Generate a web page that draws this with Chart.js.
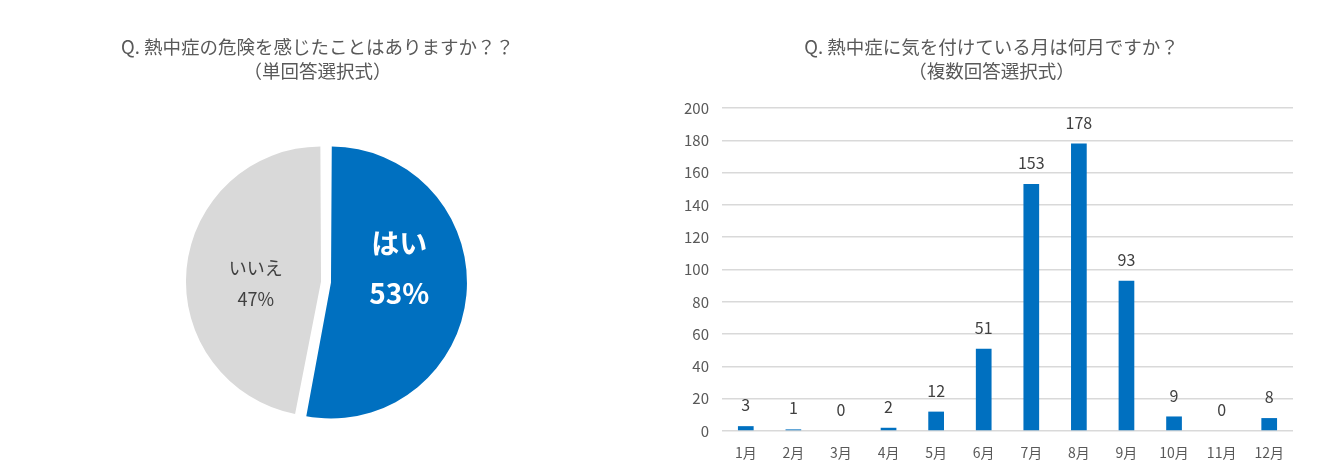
<!DOCTYPE html>
<html lang="ja">
<head>
<meta charset="utf-8">
<script src="https://cdn.jsdelivr.net/npm/chart.js@4.4.1/dist/chart.umd.min.js"></script>
<style>
  html, body { margin: 0; padding: 0; background: #ffffff; }
  #wrap { position: relative; width: 1330px; height: 476px; overflow: hidden; }
  #pie-chart { position: absolute; left: 0; top: 0; }
  #month-chart { position: absolute; left: 600px; top: 0; }
</style>
</head>
<body>
<div id="wrap">
  <canvas id="pie-chart" width="650" height="476"></canvas>
  <canvas id="month-chart" width="730" height="476"></canvas>
</div>
<script>
// Left: 熱中症の危険を感じたか
const pieTitle = ['Q. 熱中症の危険を感じたことはありますか？？', '（単回答選択式）'];
const pieLabels = ['はい', 'いいえ'];
const pieValues = [53, 47];
const pieColors = ['#0070C0', '#D9D9D9'];

// Right: 気を付けている月
const barTitle = ['Q. 熱中症に気を付けている月は何月ですか？', '（複数回答選択式）'];
const months = ['1月', '2月', '3月', '4月', '5月', '6月', '7月', '8月', '9月', '10月', '11月', '12月'];
const monthCounts = [3, 1, 0, 2, 12, 51, 153, 178, 93, 9, 0, 8];
const yTicks = [0, 20, 40, 60, 80, 100, 120, 140, 160, 180, 200];

const FONT = "'Noto Sans CJK JP', 'Noto Sans', sans-serif";
Chart.defaults.font.family = FONT;

// empty legend, only used as a spacer so the title sits a bit off the plot centre
function spacerLegend(position, width) {
    return { display: true, position: position, maxWidth: width, labels: { filter: () => false } };
}

// labels inside the pie slices (name + percent)
const pieLabelPlugin = {
    id: 'pieLabels',
    afterDatasetsDraw(chart) {
        const ctx = chart.ctx;
        const meta = chart.getDatasetMeta(0);
        const styles = [
            { color: '#ffffff', font: 'bold 28px ' + FONT, dx: 3, dy: -20, gap: 50 },
            { color: '#404040', font: '18px ' + FONT, dx: 0, dy: 8, gap: 31 }
        ];
        ctx.save();
        ctx.textAlign = 'center';
        ctx.textBaseline = 'middle';
        meta.data.forEach((arc, i) => {
            const half = (arc.startAngle + arc.endAngle) / 2;
            const shift = (arc.options.offset || 0) / 4; // same shift the arc uses when drawn
            const r = arc.outerRadius * 0.5 + shift;
            const x = arc.x + Math.cos(half) * r;
            const y = arc.y + Math.sin(half) * r;
            const s = styles[i];
            ctx.fillStyle = s.color;
            ctx.font = s.font;
            ctx.fillText(pieLabels[i], x + s.dx, y + s.dy - s.gap / 2);
            ctx.fillText(pieValues[i] + '%', x + s.dx, y + s.dy + s.gap / 2);
        });
        ctx.restore();
    }
};

// value above each bar
const barValuePlugin = {
    id: 'barValues',
    afterDatasetsDraw(chart) {
        const ctx = chart.ctx;
        const meta = chart.getDatasetMeta(0);
        ctx.save();
        ctx.fillStyle = '#404040';
        ctx.font = '16px ' + FONT;
        ctx.textAlign = 'center';
        ctx.textBaseline = 'middle';
        meta.data.forEach((bar, i) => {
            ctx.fillText(String(monthCounts[i]), bar.x, bar.y - 21);
        });
        ctx.restore();
    }
};

new Chart(document.getElementById('pie-chart'), {
    type: 'pie',
    data: {
        labels: pieLabels,
        datasets: [{
            data: pieValues,
            backgroundColor: pieColors,
            borderWidth: 0,
            hoverBorderWidth: 0,
            hoverOffset: 0,
            offset: 20   // both slices pulled apart a little
        }]
    },
    options: {
        responsive: false,
        animation: false,
        layout: { padding: { left: 0, right: 15, top: 0, bottom: 53 } },
        plugins: {
            legend: spacerLegend('left', 17),
            tooltip: { enabled: false },
            title: {
                display: true,
                text: pieTitle,
                color: '#595959',
                font: { size: 18.5, weight: 'normal', lineHeight: 24 / 18.5 },
                padding: { top: 35, bottom: 58 }
            }
        }
    },
    plugins: [pieLabelPlugin]
});

new Chart(document.getElementById('month-chart'), {
    type: 'bar',
    data: {
        labels: months,
        datasets: [{
            data: monthCounts,
            backgroundColor: '#0070C0',
            borderWidth: 0,
            categoryPercentage: 1.0,
            barPercentage: 0.33
        }]
    },
    options: {
        responsive: false,
        animation: false,
        layout: { padding: { left: 81, right: 28, top: 0, bottom: 16 } },
        plugins: {
            legend: spacerLegend('right', 9),
            tooltip: { enabled: false },
            title: {
                display: true,
                text: barTitle,
                color: '#595959',
                font: { size: 18.5, weight: 'normal', lineHeight: 24 / 18.5 },
                padding: { top: 35, bottom: 25 }
            }
        },
        scales: {
            x: {
                grid: { display: false, drawTicks: false },
                border: { display: false },
                ticks: { color: '#595959', font: { size: 14 }, padding: 13 },
                afterFit(scale) { scale.height = 29; }
            },
            y: {
                min: yTicks[0],
                max: yTicks[yTicks.length - 1],
                afterBuildTicks(scale) { scale.ticks = yTicks.map(v => ({ value: v })); },
                ticks: { color: '#595959', font: { size: 15 }, padding: 13 },
                grid: { color: '#D9D9D9', lineWidth: 1.5, drawTicks: false },
                border: { display: false },
                afterFit(scale) { scale.width = 41; }
            }
        }
    },
    plugins: [barValuePlugin]
});
</script>
</body>
</html>
